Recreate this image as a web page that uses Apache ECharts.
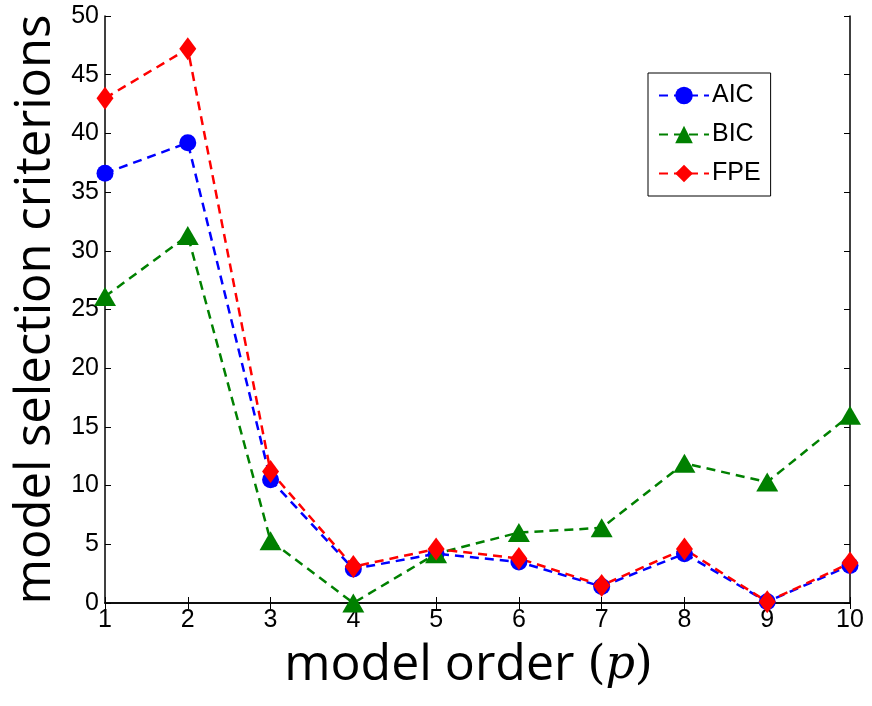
<!DOCTYPE html>
<html>
<head>
<meta charset="utf-8">
<style>
  html, body { margin: 0; padding: 0; background: #fff; }
  #chart { width: 872px; height: 706px; }
</style>
<script src="https://cdn.jsdelivr.net/npm/echarts@6/dist/echarts.min.js"></script>
</head>
<body>
<div id="chart"></div>
<script>
// Model order p = 1..10
const orders = [1, 2, 3, 4, 5, 6, 7, 8, 9, 10];
const aicValues = [36.6, 39.2, 10.5, 2.9, 4.2, 3.5, 1.4, 4.2, 0.1, 3.2];
const bicValues = [26.1, 31.3, 5.3, 0.0, 4.2, 6.0, 6.4, 11.9, 10.3, 16.0];
const fpeValues = [43.0, 47.2, 11.2, 3.1, 4.6, 3.8, 1.5, 4.6, 0.1, 3.4];

const pairs = (vals) => orders.map((x, i) => [x, vals[i]]);

const chart = echarts.init(document.getElementById('chart'));

const tickFont = { fontFamily: 'Liberation Sans, Arial, sans-serif', fontSize: 25, color: '#000' };
const nameFont = 'Open Sans, Lato, sans-serif';
const mathFont = 'DejaVu Serif, serif';

function lineSeries(name, color, symbol, size, vals) {
  return {
    name: name,
    type: 'line',
    data: pairs(vals),
    symbol: symbol,
    symbolSize: size,
    showAllSymbol: true,
    lineStyle: { color: color, width: 2.5, type: [9, 6] },
    itemStyle: { color: color },
    emphasis: { disabled: true },
    animation: false
  };
}

const boxAxis = {
  axisLine: { show: true, lineStyle: { color: '#000', width: 1.5 } },
  axisTick: { show: true, inside: true, length: 6, lineStyle: { color: '#000' } },
  splitLine: { show: false }
};

chart.setOption({
  animation: false,
  grid: { left: 105, right: 22, top: 16, bottom: 103, containLabel: false },
  legend: {
    orient: 'vertical',
    left: 648,
    top: 73,
    width: 123,
    padding: [10, 10, 10, 10],
    itemGap: 14,
    itemWidth: 50,
    itemHeight: 22,
    borderColor: '#000',
    borderWidth: 1,
    backgroundColor: '#fff',
    textStyle: { fontFamily: 'Liberation Sans, Arial, sans-serif', fontSize: 25, color: '#000', padding: [0, 0, 0, -2] },
    data: ['AIC', 'BIC', 'FPE']
  },
  xAxis: [
    Object.assign({
      type: 'value', min: 1, max: 10, interval: 1,
      axisLabel: Object.assign({ margin: 5 }, tickFont),
      name: '{t|model order }{m|(}{p|p}{m|)}',
      nameLocation: 'middle',
      nameGap: 38,
      nameTextStyle: {
        padding: [0, 18, 0, 0],
        rich: {
          t: { fontFamily: nameFont, fontSize: 50, color: '#000' },
          m: { fontFamily: mathFont, fontSize: 46, color: '#000' },
          p: { fontFamily: mathFont, fontStyle: 'italic', fontSize: 46, color: '#000' }
        }
      }
    }, boxAxis),
    Object.assign({
      type: 'value', min: 1, max: 10, interval: 1, position: 'top',
      axisLabel: { show: false }
    }, boxAxis)
  ],
  yAxis: [
    Object.assign({
      type: 'value', min: 0, max: 50, interval: 5,
      axisLabel: Object.assign({ margin: 6 }, tickFont),
      name: 'model selection criterions',
      nameLocation: 'middle',
      nameGap: 35,
      nameTextStyle: { fontFamily: nameFont, fontSize: 49, color: '#000' }
    }, boxAxis),
    Object.assign({
      type: 'value', min: 0, max: 50, interval: 5, position: 'right',
      axisLabel: { show: false }
    }, boxAxis)
  ],
  series: [
    lineSeries('AIC', '#0000ff', 'circle', 17, aicValues),
    lineSeries('BIC', '#008000', 'triangle', [22, 19], bicValues),
    lineSeries('FPE', '#ff0000', 'diamond', [17, 23], fpeValues)
  ]
});
</script>
</body>
</html>
